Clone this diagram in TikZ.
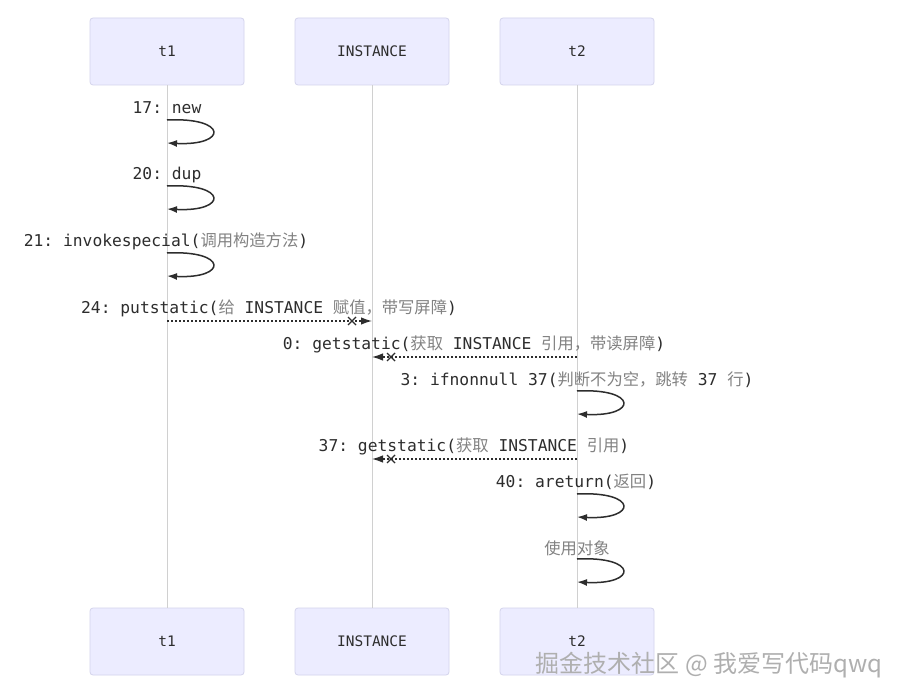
\documentclass[tikz,border=0pt]{standalone}
\usepackage{fontspec}
\setmonofont{DejaVu Sans Mono}
\newfontfamily\cjk{Noto Sans CJK SC}
\usetikzlibrary{calc,arrows.meta}
\definecolor{boxfill}{RGB}{236,236,255}
\definecolor{boxdraw}{RGB}{212,212,236}
\definecolor{lifecol}{RGB}{208,208,208}
\definecolor{txt}{RGB}{45,45,45}
\definecolor{cjkgray}{RGB}{130,130,130}
\definecolor{wmark}{RGB}{175,175,175}
\newcommand{\zh}[1]{{\cjk\color{cjkgray}#1}}
\tikzset{
  actor/.style={draw=boxdraw, fill=boxfill, rounded corners=3pt, line width=0.8pt,
    minimum width=154pt, minimum height=67pt, text=txt,
    font=\ttfamily\fontsize{14.5}{17}\selectfont},
  lifeline/.style={draw=lifecol, line width=0.9pt},
  msg/.style={text=txt, inner sep=0pt, font=\ttfamily\fontsize{16.3}{19}\selectfont},
  selfloop/.style={draw=txt, line width=1.5pt, -{Latex[length=10pt,width=7pt]}},
  dashmsg/.style={draw=txt, line width=1.3pt, dash pattern=on 2pt off 2pt, -{Latex[length=11pt,width=7.5pt]}},
  crossmark/.style={draw=txt, line width=1.4pt}
}
\begin{document}
\begin{tikzpicture}[x=1pt,y=-1pt]
\useasboundingbox[fill=white] (0,0) rectangle (902,700);
% actors
\node[actor] (t1a) at (167,51.5) {t1};
\node[actor] (ia)  at (372,51.5) {INSTANCE};
\node[actor] (t2a) at (577,51.5) {t2};
\node[actor] (t1b) at (167,641.5) {t1};
\node[actor] (ib)  at (372,641.5) {INSTANCE};
\node[actor] (t2b) at (577,641.5) {t2};
% lifelines
\draw[lifeline] (t1a.south) -- (t1b.north);
\draw[lifeline] (ia.south) -- (ib.north);
\draw[lifeline] (t2a.south) -- (t2b.north);
% self messages on t1
\node[msg] (m1) at (167,108) {17: new};
\coordinate (l1s) at (167,120); \coordinate (l1e) at (167,143);
\draw[selfloop] (l1s) .. controls +(61,-3) and +(61,3) .. (l1e);
\node[msg] (m2) at (167,175) {20: dup};
\coordinate (l2s) at (167,186); \coordinate (l2e) at (167,209);
\draw[selfloop] (l2s) .. controls +(61,-3) and +(61,3) .. (l2e);
\node[msg] (m3) at (166,241) {21: invokespecial(\zh{调用构造方法})};
\coordinate (l3s) at (167,253); \coordinate (l3e) at (167,276);
\draw[selfloop] (l3s) .. controls +(61,-3) and +(61,3) .. (l3e);
% putstatic
\node[msg] (m4) at (269,308) {24: putstatic(\zh{给} INSTANCE \zh{赋值，带写屏障})};
\coordinate (a4s) at (167,321); \coordinate (a4e) at (372,321);
\draw[dashmsg] (a4s) -- (a4e);
\coordinate (x4) at (352,321);
\draw[crossmark] ($(x4)+(-4,-4)$) -- ($(x4)+(4,4)$) ($(x4)+(-4,4)$) -- ($(x4)+(4,-4)$);
% getstatic 0
\node[msg] (m5) at (474,344) {0: getstatic(\zh{获取} INSTANCE \zh{引用，带读屏障})};
\coordinate (a5s) at (577,357); \coordinate (a5e) at (372,357);
\draw[dashmsg] (a5s) -- (a5e);
\coordinate (x5) at (391,357);
\draw[crossmark] ($(x5)+(-4,-4)$) -- ($(x5)+(4,4)$) ($(x5)+(-4,4)$) -- ($(x5)+(4,-4)$);
% ifnonnull
\node[msg] (m6) at (577,380) {3: ifnonnull 37(\zh{判断不为空，跳转} 37 \zh{行})};
\coordinate (l6s) at (577,391); \coordinate (l6e) at (577,414);
\draw[selfloop] (l6s) .. controls +(61,-3) and +(61,3) .. (l6e);
% getstatic 37
\node[msg] (m7) at (474,446) {37: getstatic(\zh{获取} INSTANCE \zh{引用})};
\coordinate (a7s) at (577,459); \coordinate (a7e) at (372,459);
\draw[dashmsg] (a7s) -- (a7e);
\coordinate (x7) at (391,459);
\draw[crossmark] ($(x7)+(-4,-4)$) -- ($(x7)+(4,4)$) ($(x7)+(-4,4)$) -- ($(x7)+(4,-4)$);
% areturn
\node[msg] (m8) at (576,482) {40: areturn(\zh{返回})};
\coordinate (l8s) at (577,494); \coordinate (l8e) at (577,517);
\draw[selfloop] (l8s) .. controls +(61,-3) and +(61,3) .. (l8e);
% use object
\node[msg] (m9) at (577,548) {\zh{使用对象}};
\coordinate (l9s) at (577,559); \coordinate (l9e) at (577,582);
\draw[selfloop] (l9s) .. controls +(61,-3) and +(61,3) .. (l9e);
% watermark
\node[text=wmark, font=\cjk\fontsize{24}{28}\selectfont, inner sep=0pt] (wm) at (709,665) {掘金技术社区 @ 我爱写代码qwq};
\end{tikzpicture}
\end{document}
